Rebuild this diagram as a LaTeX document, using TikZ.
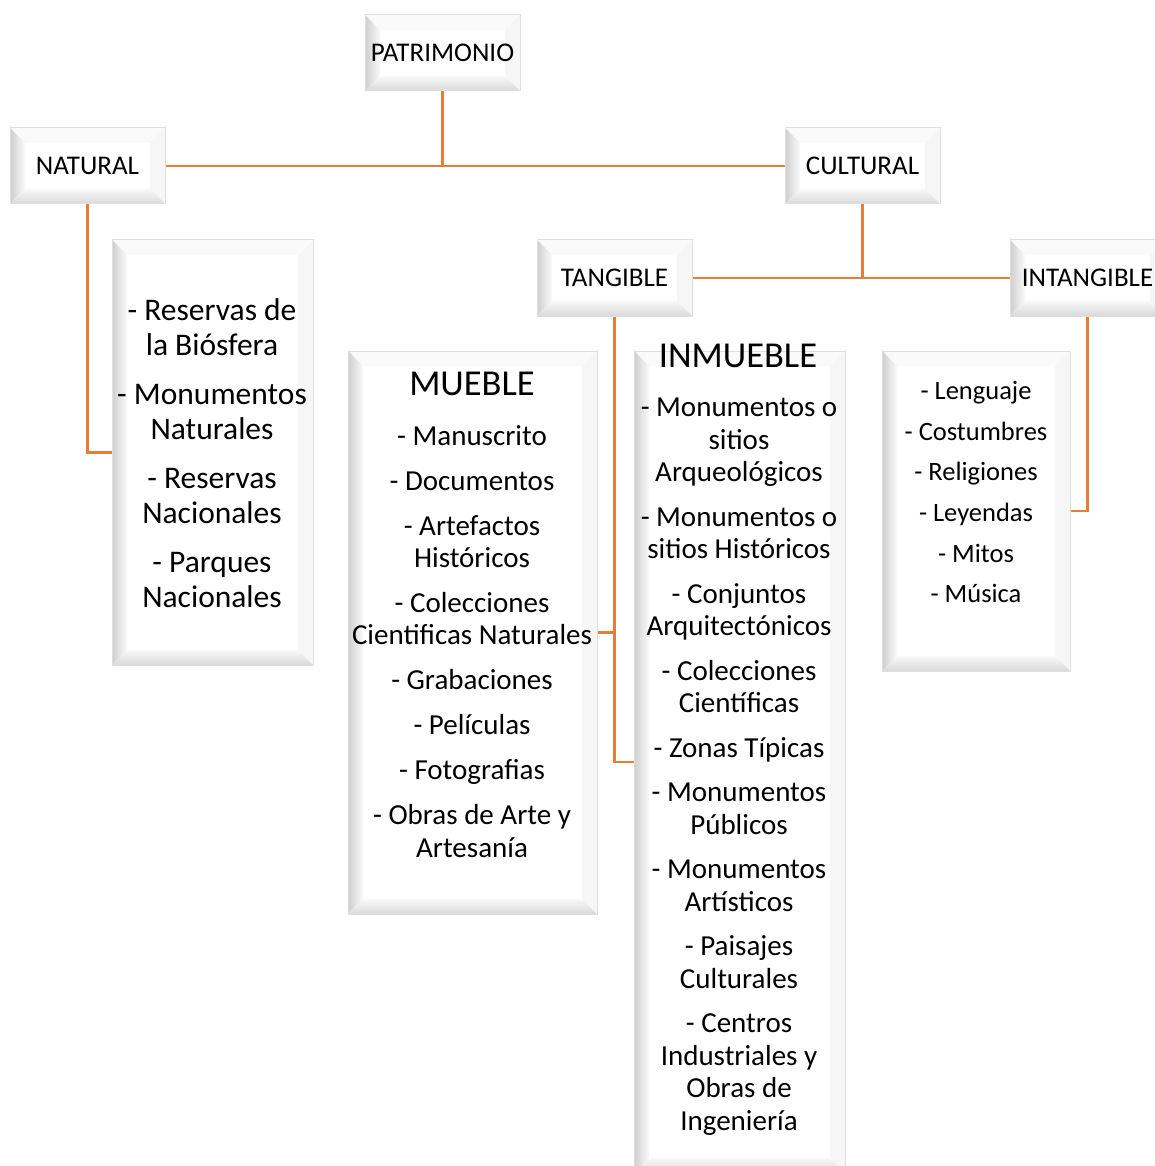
\documentclass[tikz,border=0pt]{standalone}
\usepackage{fontspec}
\setmainfont{Carlito}
\usetikzlibrary{calc}

\definecolor{linkorange}{RGB}{230,126,55}
\def\bw{15pt}

\tikzset{
  bevelbox/.style={rectangle, draw=gray!25, line width=1pt, fill=white, inner sep=0pt,
    path picture={
      \path (path picture bounding box.north west) coordinate (bnw)
            (path picture bounding box.north east) coordinate (bne)
            (path picture bounding box.south west) coordinate (bsw)
            (path picture bounding box.south east) coordinate (bse);
      % top and right edges
      \fill[gray!4] (bnw) -- (bne) -- ([xshift=-\bw,yshift=-\bw]bne) -- ([xshift=\bw,yshift=-\bw]bnw) -- cycle;
      \fill[gray!7] (bne) -- (bse) -- ([xshift=-\bw,yshift=\bw]bse) -- ([xshift=-\bw,yshift=-\bw]bne) -- cycle;
      % left and bottom edges
      \shade[left color=gray!38, right color=gray!4] (bnw) -- ([xshift=\bw,yshift=-\bw]bnw) -- ([xshift=\bw,yshift=\bw]bsw) -- (bsw) -- cycle;
      \shade[top color=gray!5, bottom color=gray!30] (bsw) -- ([xshift=\bw,yshift=\bw]bsw) -- ([xshift=-\bw,yshift=\bw]bse) -- (bse) -- cycle;
    }},
  smallbox/.style={bevelbox, minimum width=155pt, minimum height=76pt, font=\fontsize{27}{31}\selectfont},
  listtext/.style={anchor=north, align=center, inner sep=0pt},
  heading/.style={anchor=north, inner sep=0pt, font=\fontsize{36.5}{40}\selectfont},
  link/.style={draw=linkorange, line width=2.5pt},
}

\begin{document}
\begin{tikzpicture}[x=1pt, y=-1pt]
  \useasboundingbox (0,0) rectangle (1155,1166);
  \clip (0,0) rectangle (1155,1166);
  \fill[white] (0,0) rectangle (1155,1166);

  % Top levels
  \node[smallbox] (patri) at (442.5,53) {PATRIMONIO};
  \node[smallbox] (natural) at (87.5,166) {NATURAL};
  \node[smallbox] (cultural) at (862.5,166) {CULTURAL};
  \node[smallbox] (tangible) at (614.5,278) {TANGIBLE};
  \node[smallbox] (intangible) at (1087.5,278) {INTANGIBLE};

  % Lists
  \node[bevelbox, minimum width=201pt, minimum height=425pt] (natlist) at (212.5,452.5) {};
  \node[bevelbox, minimum width=249pt, minimum height=563pt] (mueble) at (472.5,632.5) {};
  \node[bevelbox, minimum width=211pt, minimum height=822pt] (inmueble) at (739.5,762) {};
  \node[bevelbox, minimum width=188pt, minimum height=320pt] (intlist) at (976,511) {};

  \node[listtext, font=\fontsize{31.5}{35}\selectfont] (natlist-txt) at (212,298) {%
    - Reservas de\\ la Biósfera\\[14pt]
    - Monumentos\\ Naturales\\[14pt]
    - Reservas\\ Nacionales\\[14pt]
    - Parques\\ Nacionales};

  \node[heading] (mueble-title) at (472,372) {MUEBLE};
  \node[listtext, font=\fontsize{29}{32.3}\selectfont] (mueble-txt) at (472,425) {%
    - Manuscrito\\[12.7pt]
    - Documentos\\[12.7pt]
    - Artefactos\\ Históricos\\[12.7pt]
    - Colecciones\\ Cientificas Naturales\\[12.7pt]
    - Grabaciones\\[12.7pt]
    - Películas\\[12.7pt]
    - Fotografias\\[12.7pt]
    - Obras de Arte y\\ Artesanía};

  \node[heading] (inmueble-title) at (738,344) {INMUEBLE};
  \node[listtext, font=\fontsize{29}{32.5}\selectfont] (inmueble-txt) at (739,398) {%
    - Monumentos o\\ sitios\\ Arqueológicos\\[12pt]
    - Monumentos o\\ sitios Históricos\\[12pt]
    - Conjuntos\\ Arquitectónicos\\[12pt]
    - Colecciones\\ Científicas\\[12pt]
    - Zonas Típicas\\[12pt]
    - Monumentos\\ Públicos\\[12pt]
    - Monumentos\\ Artísticos\\[12pt]
    - Paisajes\\ Culturales\\[12pt]
    - Centros\\ Industriales y\\ Obras de\\ Ingeniería};

  \node[listtext, font=\fontsize{26.5}{40.7}\selectfont] (intlist-txt) at (976,381) {%
    - Lenguaje\\ - Costumbres\\ - Religiones\\ - Leyendas\\ - Mitos\\ - Música};

  % Connectors
  \draw[link] (patri.south) -- (patri.south |- natural.east);
  \draw[link] (natural.east) -- (cultural.west);
  \draw[link] (natural.south) |- (natlist.west);
  \draw[link] (cultural.south) -- (cultural.south |- tangible.east);
  \draw[link] (tangible.east) -- (intangible.west);
  \draw[link] (tangible.south) |- (inmueble.west);
  \draw[link] (mueble.east) -- (mueble.east -| tangible.south);
  \draw[link] (intangible.south) |- (intlist.east);
\end{tikzpicture}
\end{document}
